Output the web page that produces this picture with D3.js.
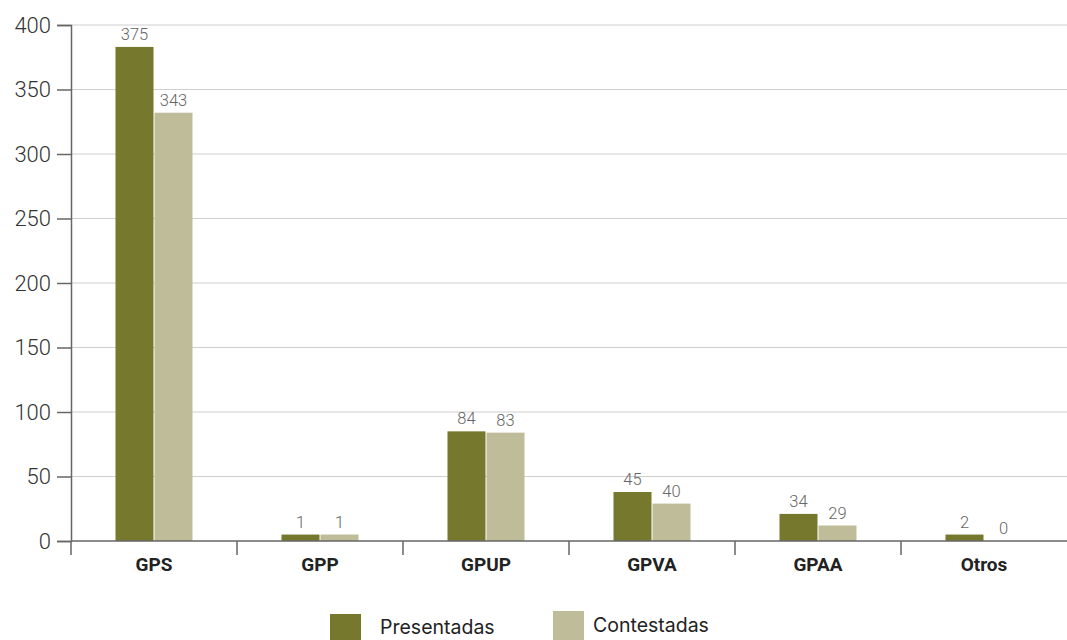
<!DOCTYPE html>
<html>
<head>
<meta charset="utf-8">
<script src="https://cdn.jsdelivr.net/npm/d3@7"></script>
<style>
  html, body { margin: 0; padding: 0; background: #fff; }
  svg { display: block; font-family: Roboto, "Noto Sans", sans-serif; }
</style>
</head>
<body>
<svg id="chart" width="1067" height="640"></svg>
<script>
'use strict';

// Categories and series
const categories = ['GPS', 'GPP', 'GPUP', 'GPVA', 'GPAA', 'Otros'];
const seriesNames = ['Presentadas', 'Contestadas'];
const seriesColors = ['#76782e', '#bfbd99'];

// Bar heights as drawn in the source picture
const presentadas = [383, 5, 85, 38, 21, 5];
const contestadas = [332, 5, 84, 29, 12, 0];

// Value labels as printed above the bars
const presentadasLabels = ['375', '1', '84', '45', '34', '2'];
const contestadasLabels = ['343', '1', '83', '40', '29', '0'];

const yTicks = [0, 50, 100, 150, 200, 250, 300, 350, 400];

const W = 1067, H = 640;
const M = { left: 71, right: 0, top: 25, bottom: 99 };

const svg = d3.select('#chart');

const x0 = d3.scaleBand().domain(categories).range([M.left, W - M.right]);
const x1 = d3.scaleBand().domain(seriesNames).range([-38.5, 38.5]).paddingInner(0.026);
const y = d3.scaleLinear().domain([0, 400]).range([H - M.bottom, M.top]);

// Gridlines
svg.append('g')
    .selectAll('line')
    .data(yTicks.filter(d => d > 0))
    .join('line')
    .attr('x1', M.left).attr('x2', W)
    .attr('y1', d => y(d)).attr('y2', d => y(d))
    .attr('stroke', '#cfcfcf').attr('stroke-width', 1);

// Y axis
const yAxis = svg.append('g')
    .attr('transform', `translate(${M.left},0)`)
    .call(d3.axisLeft(y).tickValues(yTicks).tickSize(14).tickPadding(6));
yAxis.select('.domain').attr('stroke', '#666').attr('stroke-width', 1.5);
yAxis.selectAll('.tick line').attr('stroke', '#666').attr('stroke-width', 1.5);
yAxis.selectAll('.tick text')
    .attr('font-size', 22).attr('font-weight', 300).attr('fill', '#333')
    .attr('font-family', 'Roboto, sans-serif');

// Bars
const rows = categories.map((c, i) => ({
    cat: c,
    vals: [
        { s: seriesNames[0], v: presentadas[i], lab: presentadasLabels[i], color: seriesColors[0] },
        { s: seriesNames[1], v: contestadas[i], lab: contestadasLabels[i], color: seriesColors[1] },
    ],
}));

const groups = svg.append('g')
    .selectAll('g')
    .data(rows)
    .join('g')
    .attr('transform', d => `translate(${x0(d.cat) + x0.bandwidth() / 2},0)`);

groups.selectAll('rect')
    .data(d => d.vals)
    .join('rect')
    .attr('x', d => x1(d.s))
    .attr('width', x1.bandwidth())
    .attr('y', d => y(d.v))
    .attr('height', d => y(0) - y(d.v))
    .attr('fill', d => d.color);

groups.selectAll('text')
    .data(d => d.vals)
    .join('text')
    .attr('x', d => x1(d.s) + x1.bandwidth() / 2)
    .attr('y', d => y(d.v) - 7)
    .attr('text-anchor', 'middle')
    .attr('font-size', 16.5).attr('font-weight', 300).attr('fill', '#666')
    .text(d => d.lab);

// X axis line and category separators
svg.append('line')
    .attr('x1', M.left).attr('x2', W)
    .attr('y1', y(0)).attr('y2', y(0))
    .attr('stroke', '#666').attr('stroke-width', 1.5);

svg.append('g')
    .selectAll('line')
    .data(categories)
    .join('line')
    .attr('x1', d => x0(d)).attr('x2', d => x0(d))
    .attr('y1', y(0)).attr('y2', y(0) + 14)
    .attr('stroke', '#666').attr('stroke-width', 1.5);

svg.append('g')
    .selectAll('text')
    .data(categories)
    .join('text')
    .attr('x', d => x0(d) + x0.bandwidth() / 2)
    .attr('y', 571)
    .attr('text-anchor', 'middle')
    .attr('font-size', 19).attr('font-weight', 700).attr('fill', '#222')
    .text(d => d);

// Legend
const legendItems = [
    { name: seriesNames[0], color: seriesColors[0], x: 330, sy: 614, ty: 634, tx: 380 },
    { name: seriesNames[1], color: seriesColors[1], x: 553, sy: 611, ty: 632, tx: 593 },
];
const lg = svg.append('g').selectAll('g').data(legendItems).join('g');
lg.append('rect')
    .attr('x', d => d.x).attr('y', d => d.sy)
    .attr('width', 31).attr('height', d => H - d.sy + 2)
    .attr('fill', d => d.color);
lg.append('text')
    .attr('x', d => d.tx).attr('y', d => d.ty)
    .attr('font-size', 19.5).attr('fill', '#222')
    .attr('font-family', 'Inter, "Noto Sans", sans-serif')
    .text(d => d.name);
</script>
</body>
</html>
